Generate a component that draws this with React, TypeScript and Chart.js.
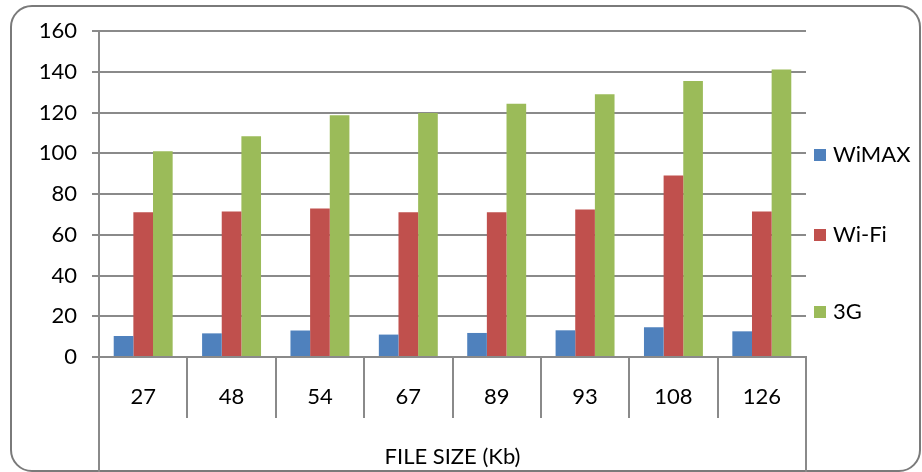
import React, { useEffect, useRef } from "react";
import { Chart, registerables } from "chart.js";

Chart.register(...registerables);

const categories = ["27", "48", "54", "67", "89", "93", "108", "126"];
const wimax = [10.3, 11.6, 13.0, 11.0, 11.8, 13.1, 14.6, 12.6];
const wifi = [71.1, 71.4, 72.9, 71.1, 71.1, 72.4, 89.1, 71.4];
const g3 = [101, 108.3, 118.7, 119.7, 124.3, 129, 135.4, 141.1];
const seriesNames = ["WiMAX", "Wi-Fi", "3G"];
const seriesColors = ["#4F81BD", "#C0504D", "#9BBB59"];
const xTitle = "FILE SIZE (Kb)";

const FONT = "Lato, 'Open Sans', sans-serif";
const FS = 22;
const LINE = "#8a8a8a";

const extraPlugin = {
  id: "extras",
  afterDraw(chart: any) {
    const { ctx, chartArea } = chart;
    const H = chart.height;
    ctx.save();
    ctx.strokeStyle = LINE;
    ctx.lineWidth = 2;
    ctx.beginPath();
    ctx.moveTo(chartArea.left, chartArea.bottom);
    ctx.lineTo(chartArea.left, H);
    ctx.moveTo(chartArea.right, chartArea.bottom);
    ctx.lineTo(chartArea.right, H);
    ctx.stroke();
    // legend
    const ys = [155, 235, 312];
    ctx.font = `${FS}px ${FONT}`;
    ctx.textBaseline = "middle";
    ctx.textAlign = "left";
    chart.data.datasets.forEach((ds: any, i: number) => {
      const y = ys[i];
      ctx.fillStyle = ds.backgroundColor;
      ctx.fillRect(chartArea.right + 8, y - 6, 12, 12);
      ctx.fillStyle = "#000";
      ctx.fillText(ds.label, chartArea.right + 27, y);
    });
    ctx.restore();
  },
};

export default function App() {
  const ref = useRef<HTMLCanvasElement | null>(null);
  useEffect(() => {
    if (!ref.current) return;
    const data = [wimax, wifi, g3];
    const chart = new Chart(ref.current, {
      type: "bar",
      data: {
        labels: categories,
        datasets: seriesNames.map((n, i) => ({
          label: n,
          data: data[i],
          backgroundColor: seriesColors[i],
          borderWidth: 0,
          categoryPercentage: 0.667,
          barPercentage: 1,
        })),
      },
      options: {
        responsive: false,
        animation: false,
        layout: { padding: { top: 31, right: 116, left: 20, bottom: 0 } },
        plugins: { legend: { display: false }, tooltip: { enabled: false } },
        scales: {
          x: {
            afterFit: (s: any) => {
              s.height = 115;
            },
            grid: {
              display: true,
              drawOnChartArea: false,
              drawTicks: true,
              tickLength: 61,
              color: LINE,
              lineWidth: 2,
              offset: true,
            },
            border: { display: true, color: LINE, width: 2 },
            ticks: {
              color: "#000",
              font: { family: FONT, size: FS },
              padding: -34,
              maxRotation: 0,
              autoSkip: false,
            },
            title: {
              display: true,
              text: xTitle,
              color: "#000",
              font: { family: FONT, size: FS },
              padding: { top: 0, bottom: 2 },
            },
          },
          y: {
            min: 0,
            max: 160,
            afterFit: (s: any) => {
              s.width = 79;
            },
            ticks: {
              stepSize: 20,
              color: "#000",
              font: { family: FONT, size: FS },
              padding: 15,
            },
            grid: { color: LINE, lineWidth: 2, tickLength: 7 },
            border: { display: true, color: LINE, width: 2 },
          },
        },
      },
      plugins: [extraPlugin],
    });
    return () => chart.destroy();
  }, []);
  return (
    <div style={{ position: "fixed", left: 0, top: 0, width: 922, height: 472, background: "#fff" }}>
      <div
        style={{
          position: "absolute",
          left: 10,
          top: 5,
          width: 911,
          height: 467,
          boxSizing: "border-box",
          border: "2px solid #7a7a7a",
          borderRadius: 22,
        }}
      />
      <canvas ref={ref} width={922} height={472} style={{ position: "absolute", left: 0, top: 0, width: 922, height: 472 }} />
    </div>
  );
}
